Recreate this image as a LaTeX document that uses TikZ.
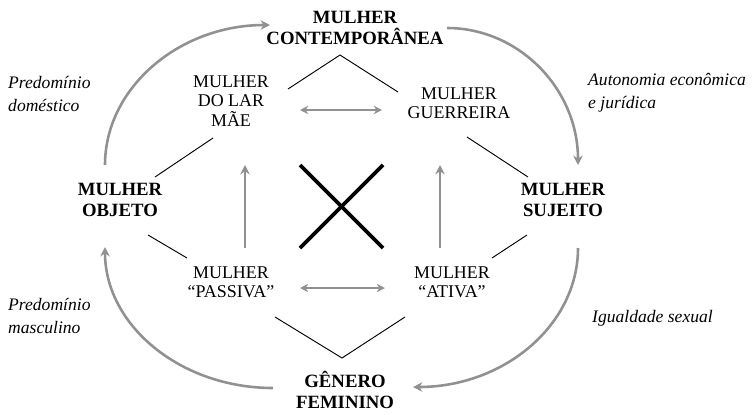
\documentclass[tikz,border=0pt]{standalone}
\usepackage{fontspec}
\setmainfont{Liberation Serif}
\usepackage{tikz}
\usetikzlibrary{
    arrows.meta
}
\definecolor{flowgray}{RGB}{145,145,145}

\begin{document}
\begin{tikzpicture}[
x=0.03cm, y=-0.03cm,
mainbox/.style={
align=center,
inner sep=1pt,
font=\fontsize{16}{18.5}\selectfont\bfseries
},
subbox/.style={
align=center,
inner sep=1pt,
font=\fontsize{15.3}{16.5}\selectfont
},
note/.style={
anchor=west,
align=left,
inner sep=0pt,
font=\fontsize{15}{20}\selectfont\itshape
},
link/.style={line width=0.8pt},
flow/.style={
draw=flowgray,
line width=2.2pt,
-{Stealth[length=8pt,width=8pt]}
},
both/.style={
draw=flowgray,
line width=2pt,
{Stealth[length=7pt,width=7pt]}-{Stealth[length=7pt,width=7pt]}
}
]
\useasboundingbox (0,0) rectangle (755,414);

\node[mainbox] (contemp) at (355,28) {MULHER\\CONTEMPORÂNEA};
\node[subbox] (lar) at (231,101) {MULHER\\DO LAR\\MÃE};
\node[subbox] (guerreira) at (459,103) {MULHER\\GUERREIRA};
\node[mainbox] (objeto) at (120,200) {MULHER\\OBJETO};
\node[mainbox] (sujeito) at (563,200) {MULHER\\SUJEITO};
\node[subbox] (passiva) at (231,282) {MULHER\\“PASSIVA”};
\node[subbox] (ativa) at (452,282) {MULHER\\“ATIVA”};
\node[mainbox] (genero) at (345,390) {GÊNERO\\FEMININO};

\node[note] (domestico) at (8,94) {Predomínio\\doméstico};
\node[note] (autonomia) at (588,93) {Autonomia econômica\\e jurídica};
\node[note] (masculino) at (8,316) {Predomínio\\masculino};
\node[note] (igualdade) at (592,318) {Igualdade sexual};

\coordinate (topapex) at (340,55);
\coordinate (botapex) at (342,358);

% thin links
\draw[link] ([shift={(57,-12)}]lar.center) -- (topapex)
 -- ([shift={(-61,-11)}]guerreira.center);
\draw[link] ([shift={(-18,37)}]lar.center) -- ([shift={(35,-23)}]objeto.center);
\draw[link] ([shift={(8,34)}]guerreira.center) -- ([shift={(-35,-23)}]sujeito.center);
\draw[link] ([shift={(28,35)}]objeto.center) -- ([shift={(-44,-24)}]passiva.center);
\draw[link] ([shift={(-36,35)}]sujeito.center) -- ([shift={(40,-24)}]ativa.center);
\draw[link] ([shift={(44,35)}]passiva.center) -- (botapex)
 -- ([shift={(-47,35)}]ativa.center);

% inner arrows
\draw[both] ([shift={(69,9)}]lar.center) -- ([shift={(-77,7)}]guerreira.center);
\draw[both] ([shift={(69,6)}]passiva.center) -- ([shift={(-67,6)}]ativa.center);
\draw[flow] ([shift={(14,-34)}]passiva.center) -- ([shift={(14,64)}]lar.center);
\draw[flow] ([shift={(-12,-34)}]ativa.center) -- ([shift={(-19,62)}]guerreira.center);

% outer cycle
\draw[flow] ([shift={(-15,-35)}]objeto.center)
 .. controls +(0,-77) and +(-91,0) .. ([shift={(-85,-3)}]contemp.center);
\draw[flow] ([shift={(92,0)}]contemp.center)
 .. controls +(72,0) and +(0,-76) .. ([shift={(15,-35)}]sujeito.center);
\draw[flow] ([shift={(15,48)}]sujeito.center)
 .. controls +(0,77) and +(91,0) .. ([shift={(68,-3)}]genero.center);
\draw[flow] ([shift={(-72,-2)}]genero.center)
 .. controls +(-93,0) and +(0,78) .. ([shift={(-15,47)}]objeto.center);

% cross
\draw[line width=3.2pt] (300,165) -- (383,248);
\draw[line width=3.2pt] (383,165) -- (300,248);

\end{tikzpicture}
\end{document}
